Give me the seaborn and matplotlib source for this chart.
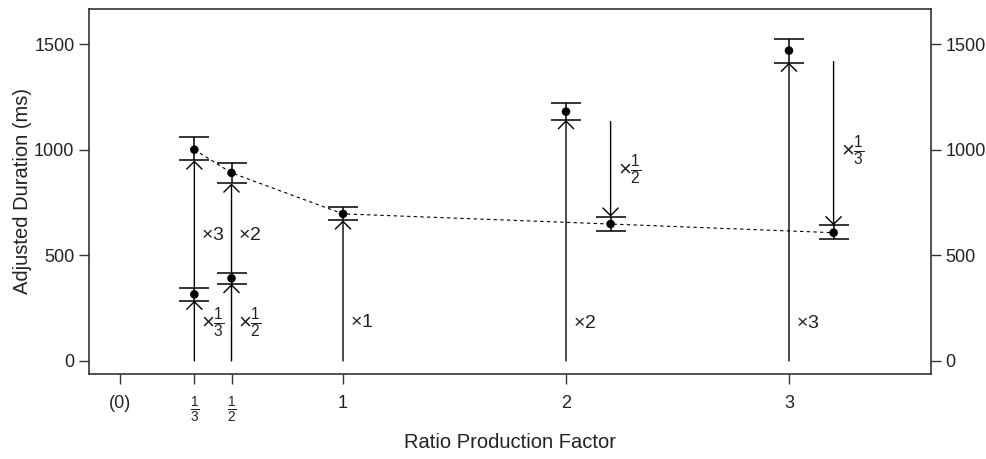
import numpy as np
import pandas as pd
import matplotlib
matplotlib.use("Agg")
import matplotlib.pyplot as plt
import seaborn as sns

# point estimates with error bars
ratio_pos = [1/3, 1/3, 1/2, 1/2, 1, 2, 2.2, 3, 3.2]
duration = [1000, 315, 890, 391, 696, 1180, 648, 1469, 607]
err_hi = [1060, 345, 938, 418, 727, 1219, 683, 1524, 642]
err_lo = [949, 285, 840, 364, 665, 1140, 615, 1412, 576]

# dashed trend through the adjusted points
trend_x = [1/3, 1/2, 1, 2.2, 3.2]
trend_y = [1000, 890, 696, 648, 607]

# arrows (start -> end) with their multiplier labels
arrow_x = [1/3, 1/3, 1/2, 1/2, 1, 2, 2.2, 3, 3.2]
arrow_from = [0, 345, 0, 418, 0, 0, 1133, 0, 1417]
arrow_to = [285, 949, 364, 840, 665, 1140, 683, 1412, 642]
arrow_lab = [r'$\times\frac{1}{3}$', r'$\times$3', r'$\times\frac{1}{2}$', r'$\times$2',
             r'$\times$1', r'$\times$2', r'$\times\frac{1}{2}$', r'$\times$3', r'$\times\frac{1}{3}$']
lab_y = [181, 596, 181, 596, 180, 175, 904, 175, 998]

xticks = [0, 1/3, 1/2, 1, 2, 3]
xtick_labels = ['(0)', r'$\frac{1}{3}$', r'$\frac{1}{2}$', '1', '2', '3']
yticks = [0, 500, 1000, 1500]

sns.set_style("white")
plt.rcParams['font.family'] = ['Liberation Sans', 'DejaVu Sans']
plt.rcParams['mathtext.fontset'] = 'custom'
plt.rcParams['mathtext.rm'] = 'Liberation Sans'
plt.rcParams['mathtext.it'] = 'Liberation Sans'

fig = plt.figure(figsize=(9.87, 4.59), dpi=100)
ax = fig.add_axes([0.0902, 0.1852, 0.8531, 0.7952])

df = pd.DataFrame({'ratio': ratio_pos, 'duration': duration})
trend = pd.DataFrame({'ratio': trend_x, 'duration': trend_y})

sns.lineplot(data=trend, x='ratio', y='duration', ax=ax, color='black',
             lw=0.8, linestyle=(0, (3, 3)), zorder=2)

yerr = np.array([np.array(duration) - np.array(err_lo), np.array(err_hi) - np.array(duration)])
ax.errorbar(ratio_pos, duration, yerr=yerr, fmt='none', ecolor='black',
            elinewidth=1.1, capsize=11, capthick=1.1, zorder=3)
sns.scatterplot(data=df, x='ratio', y='duration', ax=ax, color='black',
                s=38, edgecolor='none', zorder=4)

for x, y0, y1, lab, ly in zip(arrow_x, arrow_from, arrow_to, arrow_lab, lab_y):
    ax.annotate('', xy=(x, y1), xytext=(x, y0),
                arrowprops=dict(arrowstyle='->,head_length=0.55,head_width=0.55',
                                color='black', lw=1.0, shrinkA=0, shrinkB=0))
    fs = 16 if 'frac' in lab else 14
    ax.annotate(lab, xy=(x, ly), xytext=(5, 0), textcoords='offset points',
                ha='left', va='center', fontsize=fs, color='#222222')

ax.set_xlim(-0.139, 3.637)
ax.set_ylim(-62, 1666)
ax.set_xticks(xticks)
ax.set_xticklabels(xtick_labels)
ax.set_yticks(yticks)
ax.tick_params(axis='y', left=True, right=True, labelleft=True, labelright=True)
ax.tick_params(axis='x', bottom=True)
ax.tick_params(axis='both', direction='out', length=7, width=1, colors='#333333',
               labelsize=13, labelcolor='#222222')
ax.tick_params(axis='x', pad=8)
for t in ax.get_xticklabels():
    if 'frac' in t.get_text():
        t.set_fontsize(14)

for sp in ax.spines.values():
    sp.set_color('#333333')
    sp.set_linewidth(1.2)

ax.set_xlabel('Ratio Production Factor', fontsize=14.5, color='#222222', va='center')
ax.set_ylabel('Adjusted Duration (ms)', fontsize=14.5, color='#222222', va='center')
ax.xaxis.set_label_coords(0.5, -0.189)
ax.yaxis.set_label_coords(-0.0796, 0.5)

fig.savefig('out.png', dpi=100)
